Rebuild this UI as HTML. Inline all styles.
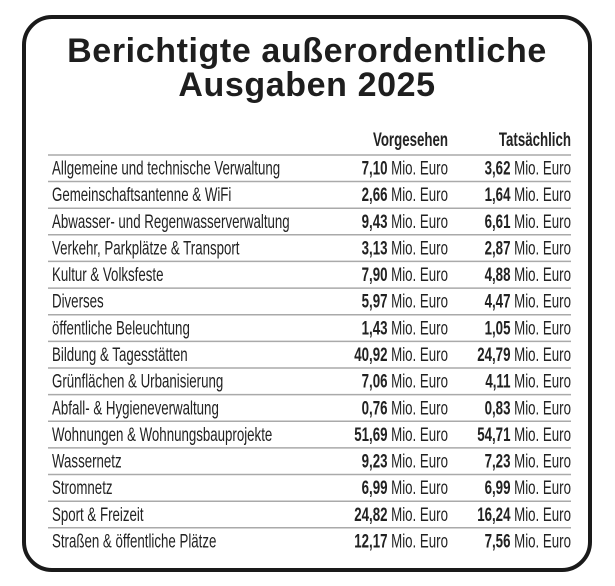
<!DOCTYPE html>
<html><head><meta charset="utf-8"><style>
html,body{margin:0;padding:0;background:#fff;}
svg{display:block;}
</style></head><body>
<svg width="615" height="586" viewBox="0 0 615 586" xmlns="http://www.w3.org/2000/svg" font-family="Liberation Sans, sans-serif">
<rect x="24" y="17" width="566" height="553" rx="28" ry="28" fill="#fff" stroke="#1a1a1a" stroke-width="4"/>
<text x="307" y="62" text-anchor="middle" font-size="34" font-weight="bold" letter-spacing="0.6" fill="#1e1e1e">Berichtigte außerordentliche</text>
<text x="307" y="96" text-anchor="middle" font-size="34" font-weight="bold" letter-spacing="0.6" fill="#1e1e1e">Ausgaben 2025</text>
<g stroke="#aaa" stroke-width="1.5">
<line x1="48" y1="155" x2="571" y2="155"/>
<line x1="48" y1="181.5" x2="571" y2="181.5"/>
<line x1="48" y1="208.2" x2="571" y2="208.2"/>
<line x1="48" y1="234.8" x2="571" y2="234.8"/>
<line x1="48" y1="261.4" x2="571" y2="261.4"/>
<line x1="48" y1="288.1" x2="571" y2="288.1"/>
<line x1="48" y1="314.7" x2="571" y2="314.7"/>
<line x1="48" y1="341.4" x2="571" y2="341.4"/>
<line x1="48" y1="368" x2="571" y2="368"/>
<line x1="48" y1="394.6" x2="571" y2="394.6"/>
<line x1="48" y1="421.3" x2="571" y2="421.3"/>
<line x1="48" y1="447.9" x2="571" y2="447.9"/>
<line x1="48" y1="474.5" x2="571" y2="474.5"/>
<line x1="48" y1="501.2" x2="571" y2="501.2"/>
<line x1="48" y1="527.8" x2="571" y2="527.8"/>
</g>
<g fill="#222" font-size="19" transform="scale(0.70,1)">
<text x="640" y="146" text-anchor="end" font-weight="bold">Vorgesehen</text>
<text x="815.7" y="146" text-anchor="end" font-weight="bold">Tatsächlich</text>
<text x="74.3" y="174.5">Allgemeine und technische Verwaltung</text>
<text x="74.3" y="201.1">Gemeinschaftsantenne &amp; WiFi</text>
<text x="74.3" y="227.8">Abwasser- und Regenwasserverwaltung</text>
<text x="74.3" y="254.4">Verkehr, Parkplätze &amp; Transport</text>
<text x="74.3" y="281.1">Kultur &amp; Volksfeste</text>
<text x="74.3" y="307.7">Diverses</text>
<text x="74.3" y="334.3">öffentliche Beleuchtung</text>
<text x="74.3" y="361">Bildung &amp; Tagesstätten</text>
<text x="74.3" y="387.6">Grünflächen &amp; Urbanisierung</text>
<text x="74.3" y="414.3">Abfall- &amp; Hygieneverwaltung</text>
<text x="74.3" y="440.9">Wohnungen &amp; Wohnungsbauprojekte</text>
<text x="74.3" y="467.5">Wassernetz</text>
<text x="74.3" y="494.2">Stromnetz</text>
<text x="74.3" y="520.8">Sport &amp; Freizeit</text>
<text x="74.3" y="547.5">Straßen &amp; öffentliche Plätze</text>
<g text-anchor="end">
<text x="640" y="174.5"><tspan font-weight="bold">7,10</tspan> Mio. Euro</text>
<text x="640" y="201.1"><tspan font-weight="bold">2,66</tspan> Mio. Euro</text>
<text x="640" y="227.8"><tspan font-weight="bold">9,43</tspan> Mio. Euro</text>
<text x="640" y="254.4"><tspan font-weight="bold">3,13</tspan> Mio. Euro</text>
<text x="640" y="281.1"><tspan font-weight="bold">7,90</tspan> Mio. Euro</text>
<text x="640" y="307.7"><tspan font-weight="bold">5,97</tspan> Mio. Euro</text>
<text x="640" y="334.3"><tspan font-weight="bold">1,43</tspan> Mio. Euro</text>
<text x="640" y="361"><tspan font-weight="bold">40,92</tspan> Mio. Euro</text>
<text x="640" y="387.6"><tspan font-weight="bold">7,06</tspan> Mio. Euro</text>
<text x="640" y="414.3"><tspan font-weight="bold">0,76</tspan> Mio. Euro</text>
<text x="640" y="440.9"><tspan font-weight="bold">51,69</tspan> Mio. Euro</text>
<text x="640" y="467.5"><tspan font-weight="bold">9,23</tspan> Mio. Euro</text>
<text x="640" y="494.2"><tspan font-weight="bold">6,99</tspan> Mio. Euro</text>
<text x="640" y="520.8"><tspan font-weight="bold">24,82</tspan> Mio. Euro</text>
<text x="640" y="547.5"><tspan font-weight="bold">12,17</tspan> Mio. Euro</text>

<text x="815.7" y="174.5"><tspan font-weight="bold">3,62</tspan> Mio. Euro</text>
<text x="815.7" y="201.1"><tspan font-weight="bold">1,64</tspan> Mio. Euro</text>
<text x="815.7" y="227.8"><tspan font-weight="bold">6,61</tspan> Mio. Euro</text>
<text x="815.7" y="254.4"><tspan font-weight="bold">2,87</tspan> Mio. Euro</text>
<text x="815.7" y="281.1"><tspan font-weight="bold">4,88</tspan> Mio. Euro</text>
<text x="815.7" y="307.7"><tspan font-weight="bold">4,47</tspan> Mio. Euro</text>
<text x="815.7" y="334.3"><tspan font-weight="bold">1,05</tspan> Mio. Euro</text>
<text x="815.7" y="361"><tspan font-weight="bold">24,79</tspan> Mio. Euro</text>
<text x="815.7" y="387.6"><tspan font-weight="bold">4,11</tspan> Mio. Euro</text>
<text x="815.7" y="414.3"><tspan font-weight="bold">0,83</tspan> Mio. Euro</text>
<text x="815.7" y="440.9"><tspan font-weight="bold">54,71</tspan> Mio. Euro</text>
<text x="815.7" y="467.5"><tspan font-weight="bold">7,23</tspan> Mio. Euro</text>
<text x="815.7" y="494.2"><tspan font-weight="bold">6,99</tspan> Mio. Euro</text>
<text x="815.7" y="520.8"><tspan font-weight="bold">16,24</tspan> Mio. Euro</text>
<text x="815.7" y="547.5"><tspan font-weight="bold">7,56</tspan> Mio. Euro</text>
</g>
</g>
</svg>
</body></html>
